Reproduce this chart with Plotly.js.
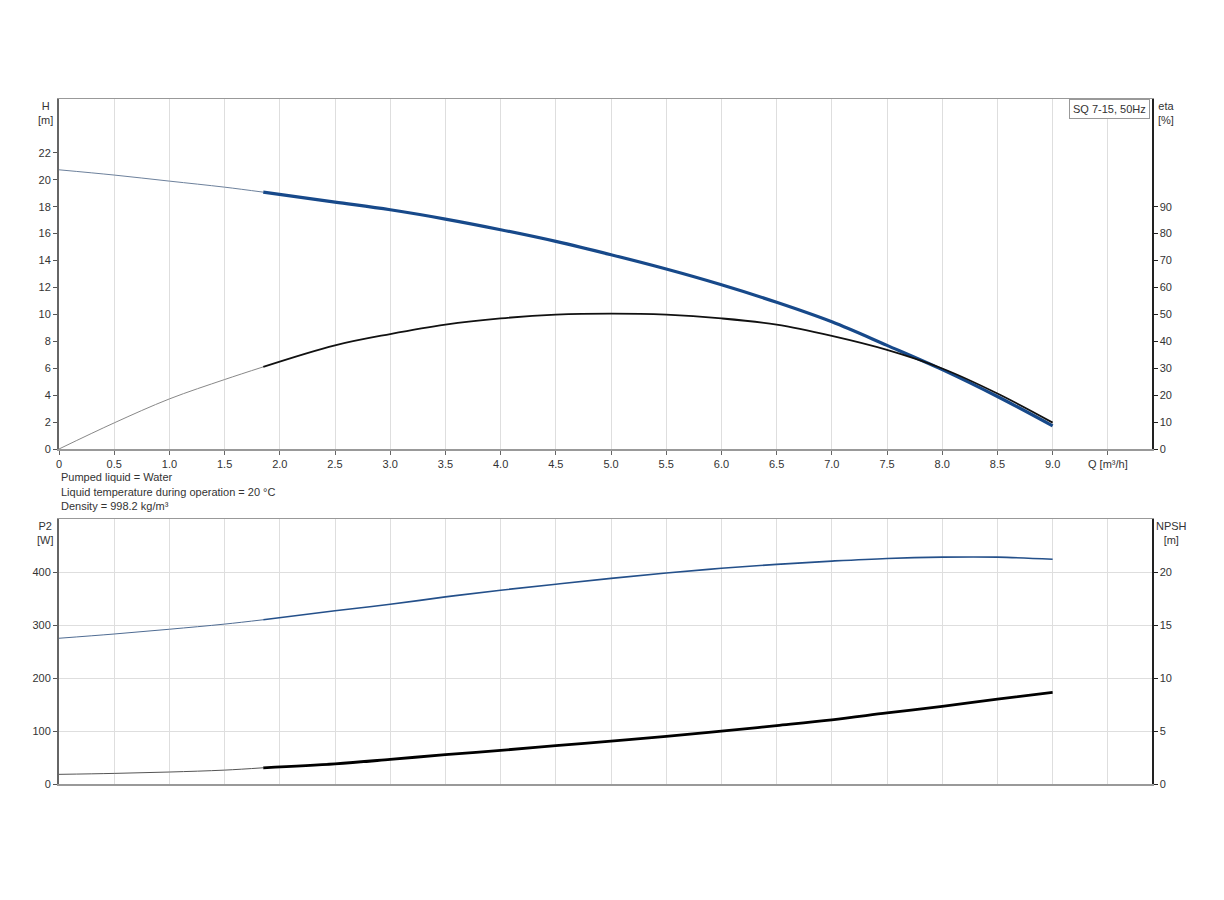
<!DOCTYPE html>
<html><head><meta charset="utf-8">
<script src="https://cdn.plot.ly/plotly-3.0.1.min.js"></script>
<style>html,body{margin:0;padding:0;background:#fff;}#chart{width:1224px;height:900px;}</style>
</head><body><div id="chart"></div>
<script>
// ---- data ----
const qThin = [0, 0.5, 1.0, 1.5, 1.85];
const qMain = [1.85, 2.5, 3.0, 3.5, 4.0, 4.5, 5.0, 5.5, 6.0, 6.5, 7.0, 7.5, 8.0, 8.5, 9.0];
const hThin = [20.74, 20.35, 19.9, 19.45, 19.08];
const hMain = [19.08, 18.34, 17.77, 17.08, 16.29, 15.42, 14.43, 13.37, 12.2, 10.9, 9.45, 7.7, 5.9, 3.9, 1.72];
const etaThin = [0, 9.7, 18.6, 25.8, 30.5];
const etaMain = [30.5, 38.5, 42.7, 46.2, 48.5, 49.9, 50.3, 49.9, 48.5, 46.2, 42.0, 36.8, 29.9, 20.6, 9.8];
const p2Thin = [275, 283, 292, 301.7, 309.9];
const p2Main = [309.9, 326.8, 339, 353, 365.6, 377, 388, 398, 407, 414.4, 420.6, 425.6, 428, 428, 424];
const npshThin = [0.91, 1.0, 1.13, 1.31, 1.53];
const npshMain = [1.53, 1.9, 2.32, 2.77, 3.17, 3.61, 4.05, 4.49, 4.99, 5.51, 6.05, 6.7, 7.33, 8.0, 8.64];

const xTickVals = [0,0.5,1,1.5,2,2.5,3,3.5,4,4.5,5,5.5,6,6.5,7,7.5,8,8.5,9,9.5];
const xTickText = ['0','0.5','1.0','1.5','2.0','2.5','3.0','3.5','4.0','4.5','5.0','5.5','6.0','6.5','7.0','7.5','8.0','8.5','9.0','Q [m³/h]'];
const hTicks = [0,2,4,6,8,10,12,14,16,18,20,22];
const etaTicks = [0,10,20,30,40,50,60,70,80,90];
const p2Ticks = [0,100,200,300,400];
const npshTicks = [0,5,10,15,20];
const pumpLabel = 'SQ 7-15, 50Hz';
const notes = ['Pumped liquid = Water', 'Liquid temperature during operation = 20 °C', 'Density = 998.2 kg/m³'];

// ---- styling helpers ----
const W = 1224, H = 900;
const px = v => v / W;
const py = v => 1 - v / H;
const BLUE = '#17498a';
const font = {family: 'Liberation Sans, Arial, sans-serif', size: 11, color: '#333'};
const sp = {shape: 'spline', smoothing: 1.0};

const traces = [
  {x: qThin, y: hThin, xaxis: 'x', yaxis: 'y', mode: 'lines', line: Object.assign({color: '#6d819c', width: 1}, sp)},
  {x: qMain, y: hMain, xaxis: 'x', yaxis: 'y', mode: 'lines', line: Object.assign({color: BLUE, width: 3.2}, sp)},
  {x: qThin, y: etaThin, xaxis: 'x', yaxis: 'y2', mode: 'lines', line: Object.assign({color: '#888', width: 1}, sp)},
  {x: qMain, y: etaMain, xaxis: 'x', yaxis: 'y2', mode: 'lines', line: Object.assign({color: '#111', width: 1.8}, sp)},
  {x: qThin, y: p2Thin, xaxis: 'x2', yaxis: 'y4', mode: 'lines', line: Object.assign({color: '#4f6c93', width: 1}, sp)},
  {x: qMain, y: p2Main, xaxis: 'x2', yaxis: 'y4', mode: 'lines', line: Object.assign({color: '#24508a', width: 1.6}, sp)},
  {x: qThin, y: npshThin, xaxis: 'x2', yaxis: 'y5', mode: 'lines', line: Object.assign({color: '#555', width: 1}, sp)},
  {x: qMain, y: npshMain, xaxis: 'x2', yaxis: 'y5', mode: 'lines', line: Object.assign({color: '#000', width: 2.8}, sp)}
];

const gridC = '#dedede';
const topDom = [py(449), py(99)];
const botDom = [py(784), py(519)];
const xDom = [px(59), px(1152)];

const layout = {
  width: W, height: H,
  margin: {l: 0, r: 0, t: 0, b: 0},
  paper_bgcolor: '#fff', plot_bgcolor: '#fff',
  showlegend: false,
  font: font,
  xaxis: {domain: xDom, anchor: 'y', range: [0, 9.9], tickmode: 'array', tickvals: xTickVals, ticktext: xTickText,
    showgrid: true, gridcolor: gridC, zeroline: false, showline: true, linecolor: '#999', linewidth: 1.5, mirror: true,
    ticks: 'outside', ticklen: 4, tickcolor: '#666', tickfont: font, automargin: false, fixedrange: true},
  yaxis: {domain: topDom, anchor: 'x', range: [0, 26], tickmode: 'array', tickvals: hTicks, showgrid: false, zeroline: false,
    showline: true, linecolor: '#666', linewidth: 2, ticks: 'outside', ticklen: 4, tickcolor: '#555', tickfont: font, automargin: false},
  yaxis3: {overlaying: 'y', anchor: 'x', range: [0, 26], dtick: 2, tick0: 0, showgrid: true, gridcolor: gridC, zeroline: false,
    showticklabels: false, ticks: '', showline: false},
  yaxis2: {overlaying: 'y', anchor: 'x', side: 'right', range: [0, 130], tickmode: 'array', tickvals: etaTicks, showgrid: false,
    zeroline: false, showline: true, linecolor: '#222', linewidth: 1.5, ticks: 'outside', ticklen: 4, tickcolor: '#222', tickfont: font, automargin: false},
  xaxis2: {domain: xDom, anchor: 'y4', range: [0, 9.9], tickmode: 'array', tickvals: xTickVals, showticklabels: false,
    showgrid: true, gridcolor: gridC, zeroline: false, showline: true, linecolor: '#999', linewidth: 1.5, mirror: true, ticks: '', automargin: false},
  yaxis4: {domain: botDom, anchor: 'x2', range: [0, 500], tickmode: 'array', tickvals: p2Ticks, showgrid: true, gridcolor: gridC,
    zeroline: false, showline: true, linecolor: '#666', linewidth: 2, ticks: 'outside', ticklen: 4, tickcolor: '#555', tickfont: font, automargin: false},
  yaxis5: {overlaying: 'y4', anchor: 'x2', side: 'right', range: [0, 25], tickmode: 'array', tickvals: npshTicks, showgrid: false,
    zeroline: false, showline: true, linecolor: '#222', linewidth: 1.5, ticks: 'outside', ticklen: 4, tickcolor: '#222', tickfont: font, automargin: false},
  annotations: [
    {xref: 'paper', yref: 'paper', x: px(45), y: py(98), xanchor: 'center', yanchor: 'top', text: 'H<br>[m]', showarrow: false, font: font, align: 'center'},
    {xref: 'paper', yref: 'paper', x: px(1166), y: py(98), xanchor: 'center', yanchor: 'top', text: 'eta<br>[%]', showarrow: false, font: font, align: 'center'},
    {xref: 'paper', yref: 'paper', x: px(45), y: py(518), xanchor: 'center', yanchor: 'top', text: 'P2<br>[W]', showarrow: false, font: font, align: 'center'},
    {xref: 'paper', yref: 'paper', x: px(1171), y: py(518), xanchor: 'center', yanchor: 'top', text: 'NPSH<br>[m]', showarrow: false, font: font, align: 'center'},
    {xref: 'paper', yref: 'paper', x: px(1150), y: py(99), xanchor: 'right', yanchor: 'top', text: pumpLabel, showarrow: false, font: font,
      bordercolor: '#999', borderwidth: 1, borderpad: 3, bgcolor: '#fff'},
    {xref: 'paper', yref: 'paper', x: px(59), y: py(477), xanchor: 'left', yanchor: 'middle', text: notes[0], showarrow: false, font: font},
    {xref: 'paper', yref: 'paper', x: px(59), y: py(492), xanchor: 'left', yanchor: 'middle', text: notes[1], showarrow: false, font: font},
    {xref: 'paper', yref: 'paper', x: px(59), y: py(506), xanchor: 'left', yanchor: 'middle', text: notes[2], showarrow: false, font: font}
  ]
};

Plotly.newPlot('chart', traces, layout, {staticPlot: true, displayModeBar: false});
</script>
</body></html>
